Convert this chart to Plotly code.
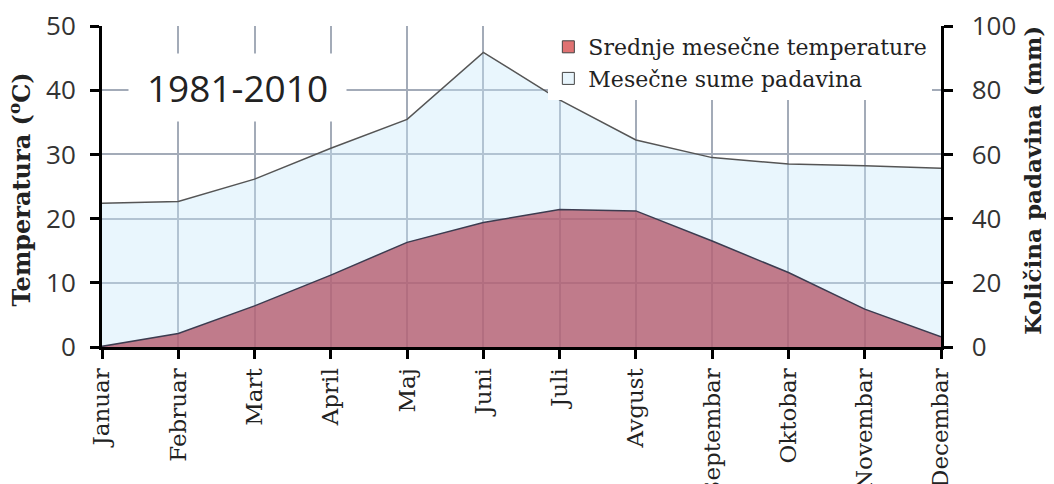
import plotly.graph_objects as go

# Mesečni podaci 1981-2010
months = ["Januar", "Februar", "Mart", "April", "Maj", "Juni", "Juli",
          "Avgust", "Septembar", "Oktobar", "Novembar", "Decembar"]
temperature = [0.1, 2.1, 6.4, 11.2, 16.3, 19.4, 21.4, 21.2, 16.5, 11.6, 5.9, 1.6]
precipitation = [44.8, 45.3, 52.3, 61.9, 70.9, 91.8, 77.0, 64.5, 59.0, 57.0, 56.5, 55.7]

temp_name = "Srednje mesečne temperature"
prec_name = "Mesečne sume padavina"

GRID = "#a3abb8"
SERIF = "DejaVu Serif"
SANS = "Open Sans"

fig = go.Figure()

# padavine na primarnoj osi (desno), temperatura na osi koja se preklapa (levo),
# da bi crvena povrsina bila iznad plave
fig.add_trace(go.Scatter(x=months, y=precipitation, yaxis="y", mode="lines",
                         fill="tozeroy", fillcolor="rgba(200,232,250,0.4)",
                         line=dict(color="#555555", width=1.5),
                         showlegend=False, hoverinfo="skip"))
fig.add_trace(go.Scatter(x=months, y=temperature, yaxis="y2", mode="lines",
                         fill="tozeroy", fillcolor="rgba(178,82,100,0.75)",
                         line=dict(color="#3c3c50", width=1.5),
                         showlegend=False, hoverinfo="skip"))

# legenda sa kvadratima
fig.add_trace(go.Scatter(x=[None], y=[None], mode="markers", name=temp_name,
                         marker=dict(symbol="square", size=12, color="#e07272",
                                     line=dict(color="#444444", width=1))))
fig.add_trace(go.Scatter(x=[None], y=[None], mode="markers", name=prec_name,
                         marker=dict(symbol="square", size=12, color="#e8f5fc",
                                     line=dict(color="#444444", width=1))))

# stranica ima marginu od 8px, pa je figura manja za toliko
fig.update_layout(
    width=1046, height=476,
    margin=dict(l=94, r=113, t=18, b=137),
    plot_bgcolor="white", paper_bgcolor="white",
    xaxis=dict(type="category", range=[0, 11], showgrid=True, gridcolor=GRID,
               gridwidth=1.5, ticks="outside", ticklen=9, tickwidth=2.5,
               tickcolor="black", showline=True, linecolor="black", linewidth=3,
               tickangle=-90, tickfont=dict(family=SERIF, size=23, color="#222"),
               automargin=False, ticklabelstandoff=0),
    yaxis=dict(side="right", range=[0, 100], dtick=20, showgrid=True,
               gridcolor=GRID, gridwidth=1.5, zeroline=False,
               ticks="outside", ticklen=9, tickwidth=2.5, tickcolor="black",
               showline=True, linecolor="black", linewidth=3,
               tickprefix="\u00a0\u00a0",
               tickfont=dict(family=SANS, size=26, color="#333"),
               automargin=False, ticklabeloverflow="allow"),
    yaxis2=dict(overlaying="y", side="left", range=[0, 50], dtick=10,
                showgrid=False, zeroline=False,
                ticks="outside", ticklen=9, tickwidth=2.5, tickcolor="black",
                showline=True, linecolor="black", linewidth=3,
                tickfont=dict(family=SANS, size=26, color="#333"),
                automargin=False, ticklabelstandoff=9,
                ticklabeloverflow="allow"),
    legend=dict(x=0.532, y=1, xanchor="left", yanchor="top", bgcolor="white",
                font=dict(family=SERIF, size=22, color="#222"),
                tracegroupgap=0, itemwidth=30),
    annotations=[
        dict(text="1981-2010", xref="paper", yref="paper", x=0.161, y=0.807,
             xanchor="center", yanchor="middle", showarrow=False,
             font=dict(family=SANS, size=37, color="#222"),
             bgcolor="white", width=215, height=65),
        dict(text="<b>Temperatura (<sup>o</sup>C)</b>", xref="paper", yref="paper",
             x=-0.098, y=0.49, xanchor="center", yanchor="middle",
             textangle=-90, showarrow=False,
             font=dict(family=SERIF, size=24, color="#222")),
        dict(text="<b>Količina padavina (mm)</b>", xref="paper", yref="paper",
             x=1.108, y=0.52, xanchor="center", yanchor="middle",
             textangle=-90, showarrow=False,
             font=dict(family=SERIF, size=23, color="#222")),
    ],
)

fig.write_html("out.html")
